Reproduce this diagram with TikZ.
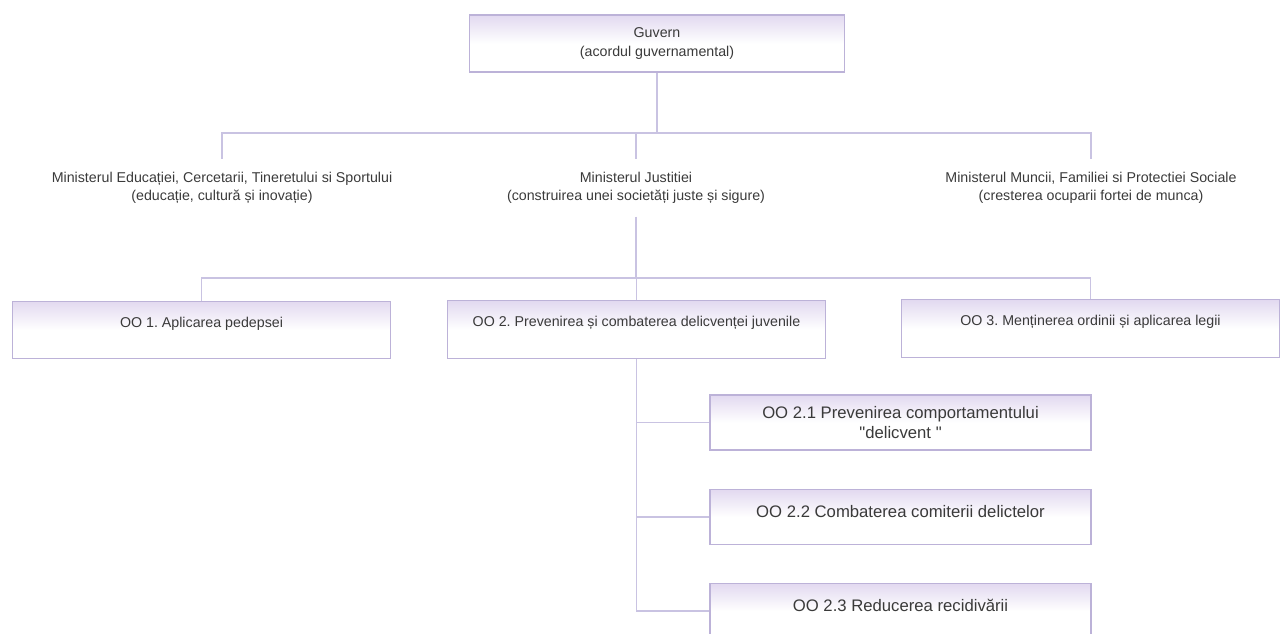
\documentclass[tikz,border=0pt]{standalone}
\usepackage{fontspec}
\setmainfont{Liberation Sans}
\newfontfamily\straightfont{Liberation Sans}
\usetikzlibrary{positioning}
\definecolor{linegray}{HTML}{C9C3E2}
\definecolor{boxedge}{HTML}{BCB2D8}
\definecolor{boxtop}{HTML}{E2D9F0}
\definecolor{textgray}{HTML}{3A3A3A}
\frenchspacing

\begin{document}
\begin{tikzpicture}[
    font=\fontsize{8.1}{10.6}\selectfont, text=textgray,
    govbox/.style={draw=boxedge, line width=0.8pt, top color=boxtop, bottom color=white, middle color=white,
        minimum width=7.5cm, minimum height=1.14cm, align=center},
    ministry/.style={minimum width=7cm, minimum height=1.14cm, align=center},
    objbox/.style={draw=boxedge, line width=0.8pt, top color=boxtop, bottom color=white, middle color=white,
        minimum width=7.55cm, minimum height=1.15cm, text height=0.25cm, text depth=0.37cm},
    subbox/.style={draw=boxedge, line width=0.8pt, top color=boxtop, bottom color=white, middle color=white,
        minimum width=7.62cm, minimum height=1.1cm, align=center, font=\fontsize{9.5}{11.5}\selectfont},
    link/.style={draw=linegray, line width=0.9pt}
]
\useasboundingbox (0,0) rectangle (25.7,-12.68);
\clip (0,0) rectangle (25.7,-12.68);

% Government
\node[govbox] (gov) at (13.14,-0.87) {Guvern\\(acordul guvernamental)};
\coordinate (hub1) at (13.14,-2.66);

% Ministries
\node[ministry] (minedu) at (4.44,-3.76) {Ministerul Educației, Cercetarii, Tineretului si Sportului\\(educație, cultură și inovație)};
\node[ministry] (minjus) at (12.72,-3.76) {Ministerul Justitiei\\(construirea unei societăți juste și sigure)};
\node[ministry] (minmunc) at (21.82,-3.76) {Ministerul Muncii, Familiei si Protectiei Sociale\\(cresterea ocuparii fortei de munca)};
\coordinate (hub2) at (12.72,-5.56);

% Operational objectives
\node[objbox] (oo1) at (4.03,-6.6) {OO 1. Aplicarea pedepsei};
\node[objbox] (oo2) at (12.73,-6.59) {OO 2. Prevenirea și combaterea delicvenței juvenile};
\node[objbox] (oo3) at (21.81,-6.57) {OO 3. Menținerea ordinii și aplicarea legii};

% Sub-objectives of OO 2
\node[subbox] (oo21) at (18.01,-8.45) {OO 2.1 Prevenirea comportamentului\\{\straightfont"}delicvent {\straightfont"}};
\node[subbox, text height=0.3cm, text depth=0.3cm] (oo22) at (18.01,-10.34) {OO 2.2 Combaterea comiterii delictelor};
\node[subbox, text height=0.3cm, text depth=0.3cm] (oo23) at (18.01,-12.22) {OO 2.3 Reducerea recidivării};

% Connectors
\foreach \m in {minedu,minjus,minmunc}{\draw[link] (gov.south) |- (\m.north |- hub1) -- (\m.north);}
\foreach \o in {oo1,oo2,oo3}{\draw[link] (minjus.south) |- (\o.north |- hub2) -- (\o.north);}
\foreach \s in {oo21,oo22,oo23}{\draw[link] (oo2.south) |- (\s.west);}

\end{tikzpicture}
\end{document}
